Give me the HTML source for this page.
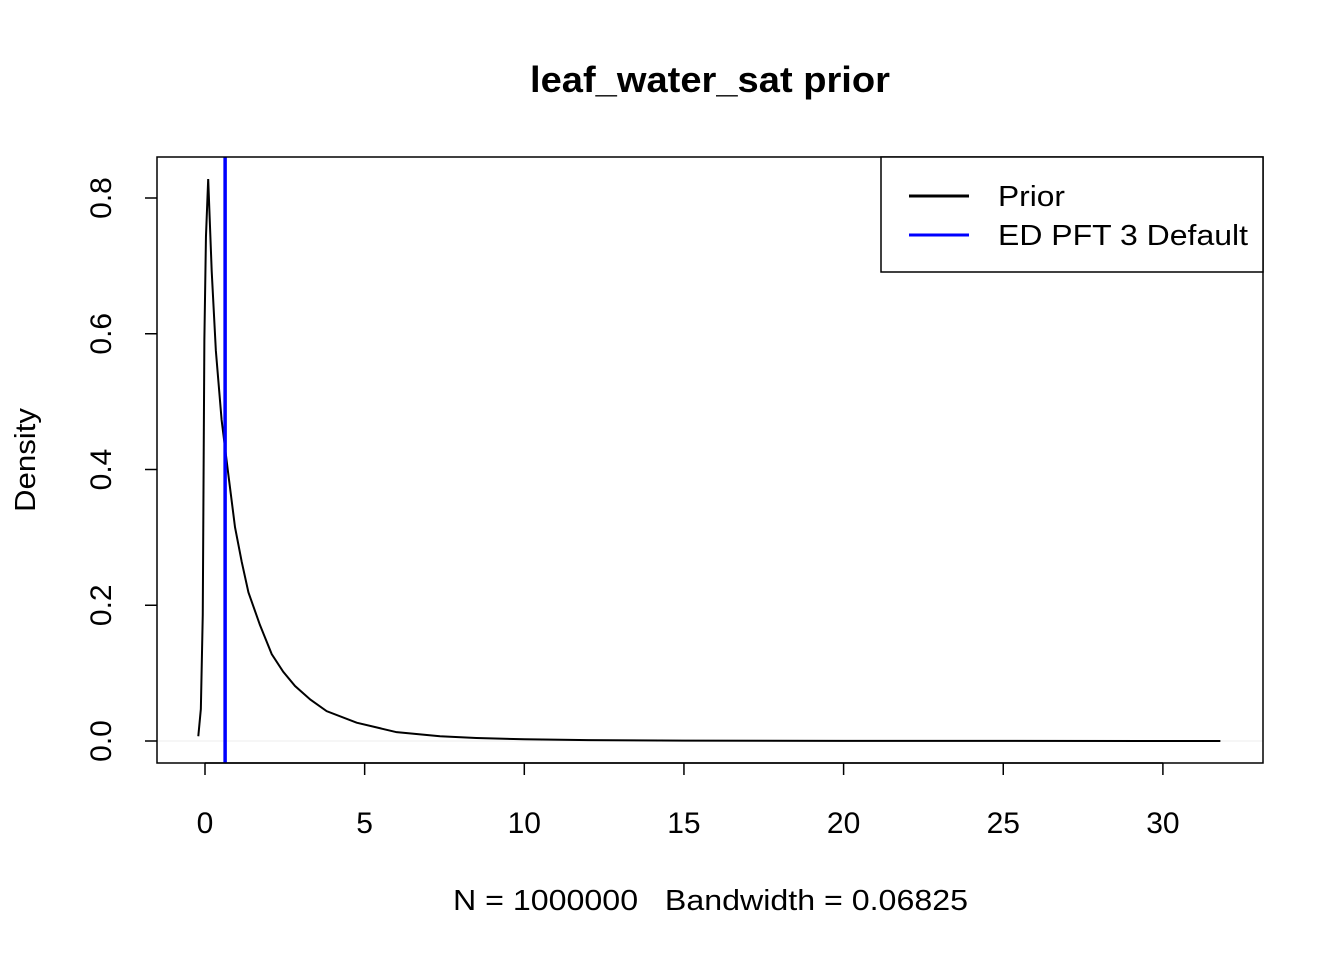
<!DOCTYPE html>
<html><head><meta charset="utf-8"><style>
html,body{margin:0;padding:0;background:#fff;}
svg text{font-family:"Liberation Sans",Arial,sans-serif;fill:#000;white-space:pre;}
</style></head><body>
<svg id="chart" width="1344" height="960" xmlns="http://www.w3.org/2000/svg">
<text x="710" y="92" font-size="36" font-weight="bold" text-anchor="middle" textLength="360" lengthAdjust="spacingAndGlyphs">leaf_water_sat prior</text>
<g id="axes"></g>
<g id="marks"></g>
<rect x="157" y="157" width="1106" height="606" fill="none" stroke="#000" stroke-width="1.5"/>
<g>
<rect x="881" y="157" width="382" height="115" fill="#fff" stroke="#000" stroke-width="1.5"/>
<line x1="909" y1="196" x2="969" y2="196" stroke="#000" stroke-width="3"/>
<text x="998" y="206" font-size="29" textLength="67" lengthAdjust="spacingAndGlyphs">Prior</text>
<line x1="909" y1="235" x2="969" y2="235" stroke="#0000ff" stroke-width="3"/>
<text x="998" y="245" font-size="29" textLength="250" lengthAdjust="spacingAndGlyphs">ED PFT 3 Default</text>
</g>
<text x="453" y="910" font-size="29" textLength="515" lengthAdjust="spacingAndGlyphs">N = 1000000   Bandwidth = 0.06825</text>
<text transform="translate(35,460) rotate(-90)" font-size="29" text-anchor="middle" textLength="104" lengthAdjust="spacingAndGlyphs">Density</text>
</svg>
<script>
const xs = [-0.21,-0.13,-0.07,-0.02,0.03,0.10,0.21,0.34,0.52,0.73,0.94,1.15,1.36,1.72,2.09,2.45,2.82,3.3,3.81,4.75,6.0,7.36,8.5,10,12,15,20,25,31.8];
const ys = [0.007,0.047,0.186,0.59,0.743,0.828,0.692,0.575,0.473,0.393,0.315,0.264,0.219,0.171,0.128,0.102,0.081,0.061,0.044,0.027,0.013,0.007,0.0045,0.0025,0.0012,0.0005,0.0002,0.0001,0];
const xTicks = [0,5,10,15,20,25,30];
const yTicks = [0,0.2,0.4,0.6,0.8];
const yTickLabels = ["0.0","0.2","0.4","0.6","0.8"];
const defaultValue = [0.63];
const NS="http://www.w3.org/2000/svg";
const sx = v => 205 + v*31.93;
const sy = v => 741 - v*678.75;
const axes=document.getElementById('axes'), marks=document.getElementById('marks');
function mk(tag,attrs,parent){const e=document.createElementNS(NS,tag);for(const k in attrs)e.setAttribute(k,attrs[k]);parent.appendChild(e);return e;}
xTicks.forEach(t=>{
  const l=mk('line',{x1:sx(t),x2:sx(t),y1:763,y2:775,stroke:'#000','stroke-width':1.5},axes);
  
  
  const tx=mk('text',{x:sx(t),y:833,'font-size':30,'text-anchor':'middle'},axes);
  tx.textContent=t;
  
  
});
const xl=mk('line',{x1:sx(xTicks[0]),x2:sx(xTicks[xTicks.length-1]),y1:763,y2:763,stroke:'#000','stroke-width':1.5},axes);


yTicks.forEach((t,i)=>{
  const l=mk('line',{x1:145,x2:157,y1:sy(t),y2:sy(t),stroke:'#000','stroke-width':1.5},axes);
  
  
  const tx=mk('text',{transform:`translate(111,${sy(t)}) rotate(-90)`,'font-size':30,'text-anchor':'middle'},axes);
  tx.textContent=yTickLabels[i];
  
  
});
const zl=mk('line',{x1:157,x2:1263,y1:sy(0),y2:sy(0),stroke:'#eeeeee','stroke-width':1},marks);


const p=mk('polyline',{points:xs.map((x,i)=>sx(x)+','+sy(ys[i])).join(' '),fill:'none',stroke:'#000','stroke-width':2},marks);


const b=mk('line',{x1:sx(defaultValue[0]),x2:sx(defaultValue[0]),y1:157,y2:763,stroke:'#0000ff','stroke-width':3.5},marks);


</script>
</body></html>
